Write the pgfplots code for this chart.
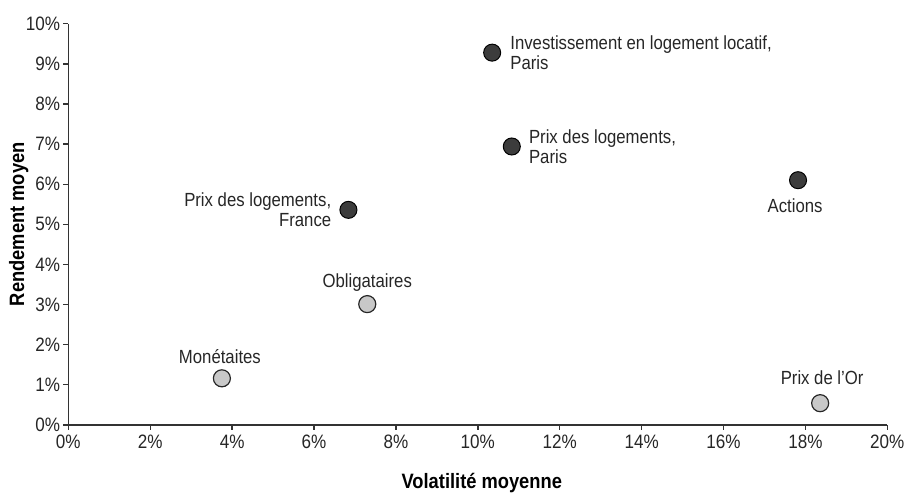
\documentclass[border=0pt]{standalone}
\usepackage{fontspec}
\setmainfont{Liberation Sans}[FakeStretch=0.88]
\usepackage{pgfplots}
\pgfplotsset{compat=1.18}

\definecolor{darkpt}{HTML}{3C3C3C}
\definecolor{lightpt}{HTML}{C8C8C8}
\definecolor{axisgray}{HTML}{333333}

\begin{document}
\begin{tikzpicture}
\begin{axis}[
  scale only axis,
  width=413.5pt, height=202.5pt,
  xmin=0, xmax=20, ymin=0, ymax=10,
  axis x line*=bottom, axis y line*=left,
  axis line style={axisgray, line width=0.8pt, -},
  tick style={axisgray, line width=0.7pt},
  tick align=outside, major tick length=2.5pt,
  xtick={0,2,...,20}, ytick={0,1,...,10},
  xticklabels={0\%,2\%,4\%,6\%,8\%,10\%,12\%,14\%,16\%,18\%,20\%},
  yticklabels={0\%,1\%,2\%,3\%,4\%,5\%,6\%,7\%,8\%,9\%,10\%},
  ticklabel style={font=\fontsize{9.8}{11}\selectfont, text=black!85},
  xticklabel style={yshift=1pt},
  yticklabel style={xshift=1.8pt},
  xlabel={\textbf{Volatilité moyenne}},
  ylabel={\textbf{Rendement moyen}},
  label style={font=\fontsize{10.5}{12}\selectfont},
  xlabel style={at={(rel axis cs:0.5,0)}, anchor=center, yshift=-29.5pt, xshift=2pt},
  ylabel style={at={(rel axis cs:0,0.5)}, anchor=center, yshift=25pt},
  clip=false,
]
% actifs sombres
\addplot[only marks, mark=*, mark size=4.3pt,
  mark options={fill=darkpt, draw=black, line width=0.5pt}]
  coordinates {(10.35,9.28) (10.83,6.94) (17.82,6.10) (6.84,5.36)};
% actifs clairs
\addplot[only marks, mark=*, mark size=4.3pt,
  mark options={fill=lightpt, draw=black!85, line width=0.6pt}]
  coordinates {(7.30,3.01) (3.75,1.16) (18.36,0.54)};

\begin{scope}[every node/.style={font=\fontsize{9.6}{10}\selectfont, inner sep=0pt, text=black!85}]
\node[anchor=west, align=left, xshift=9pt] at (axis cs:10.35,9.28)
  {Investissement en logement locatif,\\Paris};
\node[anchor=west, align=left, xshift=8.5pt] at (axis cs:10.83,6.94)
  {Prix des logements,\\Paris};
\node[anchor=east, align=right, xshift=-8.5pt] at (axis cs:6.84,5.36)
  {Prix des logements,\\France};
\node[yshift=-12.7pt, xshift=-1.5pt] at (axis cs:17.82,6.10) {Actions};
\node[yshift=10.8pt] at (axis cs:7.30,3.01) {Obligataires};
\node[yshift=11pt, xshift=-1pt] at (axis cs:3.75,1.16) {Monétaites};
\node[yshift=13pt, xshift=1pt] at (axis cs:18.36,0.54) {Prix de l'Or};
\end{scope}
\end{axis}
\path (current axis.south west) ++(-34.5pt,-35pt);
\path (current axis.north east) ++(8.5pt,12pt);
\end{tikzpicture}
\end{document}
